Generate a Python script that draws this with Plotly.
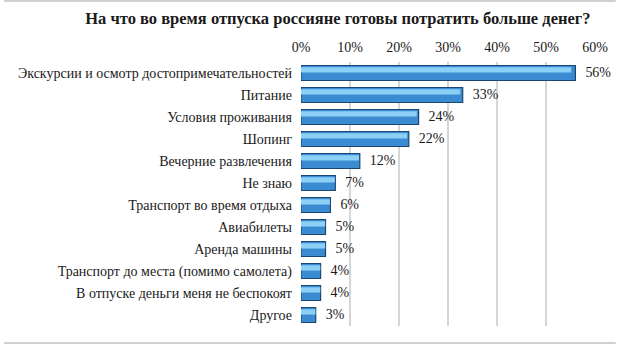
import plotly.graph_objects as go

categories = [
    "Экскурсии и осмотр достопримечательностей",
    "Питание",
    "Условия проживания",
    "Шопинг",
    "Вечерние развлечения",
    "Не знаю",
    "Транспорт во время отдыха",
    "Авиабилеты",
    "Аренда машины",
    "Транспорт до места (помимо самолета)",
    "В отпуске деньги меня не беспокоят",
    "Другое",
]
values = [56, 33, 24, 22, 12, 7, 6, 5, 5, 4, 4, 3]
tick_vals = [0, 10, 20, 30, 40, 50, 60]
tick_text = ["0%", "10%", "20%", "30%", "40%", "50%", "60%"]
title_text = "На что во время отпуска россияне готовы потратить больше денег?"

positions = list(range(len(categories)))
FONT = "Times New Roman, DejaVu Serif, serif"

fig = go.Figure()
# main bar body
fig.add_trace(go.Bar(
    y=positions, x=values, orientation="h", width=0.68,
    marker=dict(color="#3B8BD3", line=dict(color="#1B466F", width=1.2)),
    text=[f"  {v}%" for v in values], textposition="outside",
    textfont=dict(family=FONT, size=14, color="#1a1a1a"),
    cliponaxis=False, hoverinfo="skip",
))
# highlight strip (upper part of bar)
fig.add_trace(go.Bar(
    y=positions, x=[v * 0.985 for v in values], orientation="h", width=0.24, offset=-0.26,
    marker=dict(color="#8DD0F6", line=dict(width=0)),
    hoverinfo="skip",
))

fig.update_layout(
    width=620, height=345,
    margin=dict(l=301, r=21, t=62, b=19),
    paper_bgcolor="white", plot_bgcolor="white",
    barmode="overlay", showlegend=False,
    font=dict(family=FONT),
    title=dict(text=f"<b>{title_text}</b>", x=0.545, xanchor="center", y=0.948, yanchor="middle",
               font=dict(family=FONT, size=16.5, color="#1a1a1a")),
    xaxis=dict(range=[0, 60], side="top", tickvals=tick_vals, ticktext=tick_text,
               showgrid=True, gridcolor="#D6D6D6", gridwidth=1.5, zeroline=False,
               showline=False, ticks="", ticklabelstandoff=6,
               tickfont=dict(family=FONT, size=14, color="#1a1a1a")),
    yaxis=dict(range=[11.5, -0.5], tickvals=positions, ticktext=categories,
               showgrid=False, zeroline=False, showline=False, ticks="",
               ticklabelstandoff=8,
               tickfont=dict(family=FONT, size=14, color="#1a1a1a")),
    shapes=[
        dict(type="line", xref="paper", yref="paper", x0=-301/298, x1=1 + 21/298,
             y0=(345 - 19 - 1) / 264, y1=(345 - 19 - 1) / 264, line=dict(color="#D0D0D0", width=2)),
        dict(type="line", xref="paper", yref="paper", x0=-301/298, x1=1 + 21/298,
             y0=(345 - 19 - 343) / 264, y1=(345 - 19 - 343) / 264, line=dict(color="#D0D0D0", width=2)),
    ],
)

fig.write_html("out.html")
